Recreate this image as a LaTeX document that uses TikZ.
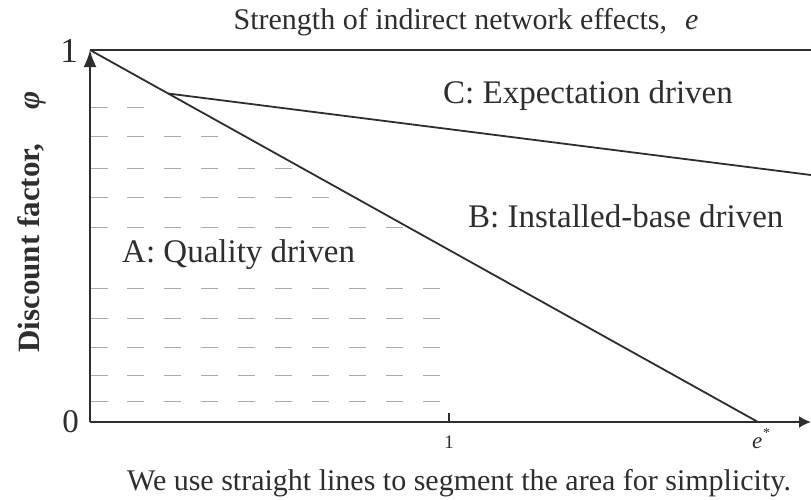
\documentclass[tikz,border=0pt]{standalone}
\usepackage{fontspec}
\setmainfont{Liberation Serif}
\usetikzlibrary{arrows.meta}
\definecolor{ink}{HTML}{2E2E2E}
\definecolor{hatch}{HTML}{ABABAB}
\begin{document}
\begin{tikzpicture}[x=1pt,y=-1pt,
  axisline/.style={draw=ink, line width=2pt},
  boundary/.style={draw=ink, line width=1.8pt},
  hatchdash/.style={draw=hatch, line width=0.9pt},
  region/.style={text=ink, inner sep=0pt, anchor=base west,
    font=\fontsize{33}{36}\selectfont},
  caption/.style={text=ink, inner sep=0pt, anchor=base,
    font=\fontsize{30}{33}\selectfont},
  ticklbl/.style={text=ink, inner sep=0pt, anchor=base},
]
\useasboundingbox (0,0) rectangle (811,499);
\fill[white] (0,0) rectangle (811,499);

% key points of the diagram
\coordinate (O)   at (90,422);
\coordinate (T)   at (90,50);
\coordinate (TR)  at (811,50);
\coordinate (XR)  at (811,422);
\coordinate (ES)  at (758,422);
\coordinate (J)   at (168,93.5);
\coordinate (CR)  at (811,175);
\coordinate (TK1) at (449,413);
\coordinate (TK0) at (449,422);

% short dashes marking region A (e < 1, below the diagonal)
\foreach \yy/\n in {107/1,136/3,168/5,197/6,227/8,288/9,318/9,347/9,375/9,401/9}{
  \foreach \k in {0,...,\n}{
    \draw[hatchdash] ({99+36.9*\k-8.5},\yy) -- ({99+36.9*\k+8.5},\yy);
  }
}

% axes and frame
\draw[axisline, -{Latex[length=17pt,width=13pt]}] (O) -- (T);
\draw[axisline, -{Latex[length=12pt,width=12pt]}] (O) -- (XR);
\draw[draw=ink, line width=2.8pt] (T) -- (TR);
\draw[draw=ink, line width=1.4pt] (TK1) -- (TK0);

% region boundaries
\draw[boundary] (T) -- (ES);
\draw[boundary] (J) -- (CR);

% labels
\node[caption] (title) at (466,29)
  {Strength of indirect network effects,\hspace{0.6em}{\itshape e}};
\node[caption] (note) at (459,490)
  {We use straight lines to segment the area for simplicity.};
\node[region] (lblC) at (443,103) {C: Expectation driven};
\node[region] (lblB) at (468,227) {B: Installed-base driven};
\node[region] (lblA) at (122,262) {A: Quality driven};
\node[ticklbl, anchor=base east, font=\fontsize{35}{38}\selectfont] (one) at (78,62) {1};
\node[ticklbl, anchor=base east, font=\fontsize{33}{36}\selectfont] (zero) at (79,432) {0};
\node[ticklbl, font=\fontsize{19}{22}\selectfont] (tick1) at (449,448) {1};
\node[ticklbl, anchor=base west, font=\fontsize{23}{26}\selectfont] (estar) at (752,448)
  {\itshape e\raisebox{0.45em}{\fontsize{14}{16}\selectfont *}};
\node[ticklbl, rotate=90, font=\bfseries\fontsize{31}{34}\selectfont] (ylab) at (39,222)
  {Discount factor,\hspace{1.1em}{\itshape φ}};
\end{tikzpicture}
\end{document}
